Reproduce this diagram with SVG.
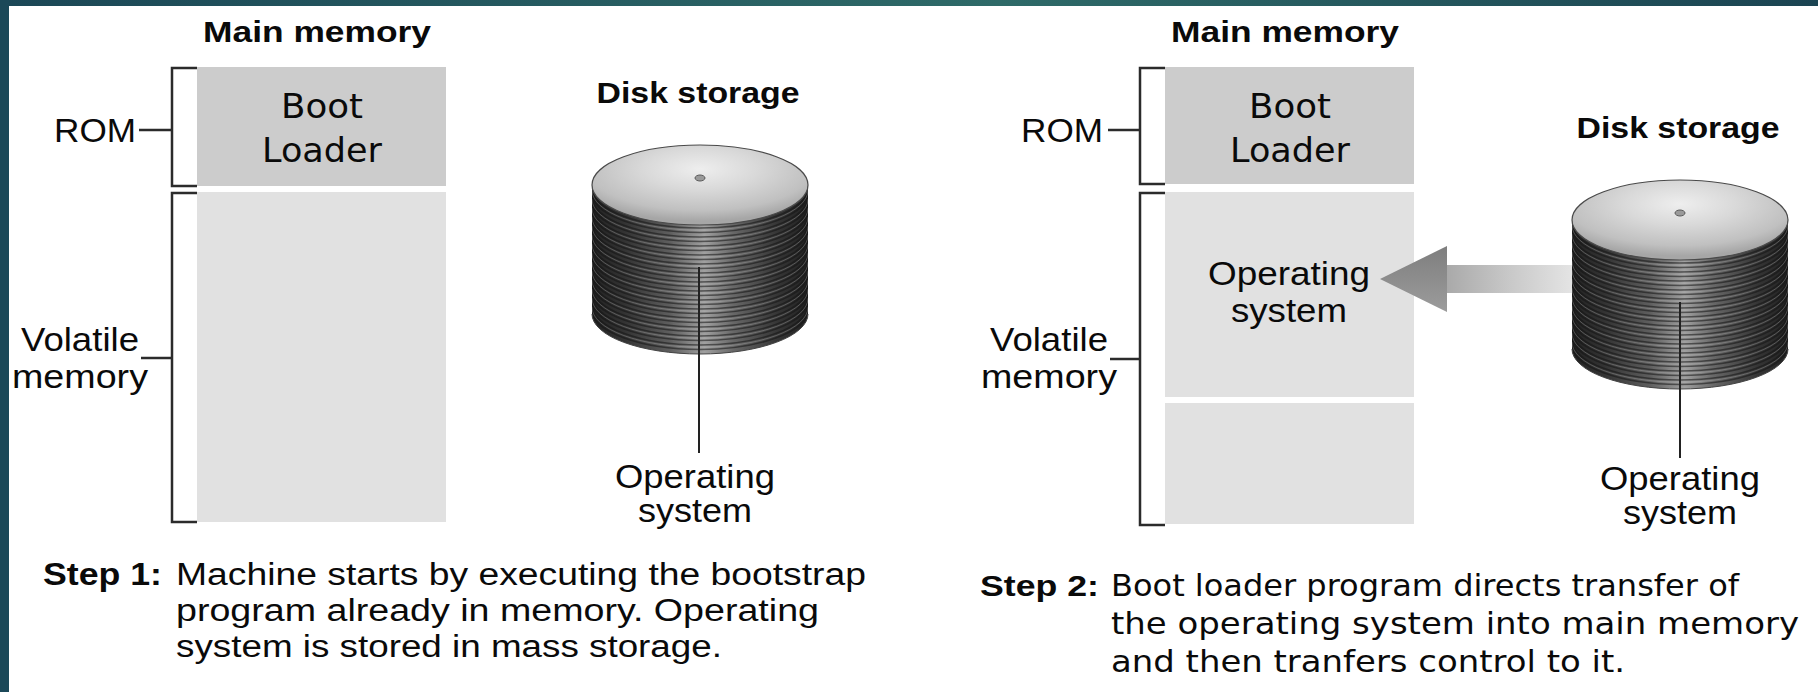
<svg xmlns="http://www.w3.org/2000/svg" xmlns:xlink="http://www.w3.org/1999/xlink" width="1818" height="692" viewBox="0 0 1818 692">
<style>
.sans{font-family:"Liberation Sans",Arial,sans-serif;fill:#0a0a0a}
.dv{font-family:"DejaVu Sans",sans-serif;fill:#0a0a0a}
.b{font-weight:bold}
.br{fill:none;stroke:#2b2b2b;stroke-width:2.5}
.lead{fill:none;stroke:#222;stroke-width:2}
.rom{fill:#cccccc}
.vol{fill:#e1e1e1}
</style>
<defs>
  <linearGradient id="topband" x1="0" y1="0" x2="1" y2="0">
    <stop offset="0" stop-color="#1b4756"/>
    <stop offset="0.55" stop-color="#2e6a68"/>
    <stop offset="1" stop-color="#1b4452"/>
  </linearGradient>
  <linearGradient id="side" x1="0" y1="0" x2="1" y2="0">
    <stop offset="0" stop-color="#222"/>
    <stop offset="0.15" stop-color="#333"/>
    <stop offset="0.36" stop-color="#5e5e5e"/>
    <stop offset="0.52" stop-color="#a0a0a0"/>
    <stop offset="0.66" stop-color="#666"/>
    <stop offset="0.86" stop-color="#353535"/>
    <stop offset="1" stop-color="#222"/>
  </linearGradient>
  <radialGradient id="topg" cx="0.5" cy="0.3" r="0.65">
    <stop offset="0" stop-color="#eeeeee"/>
    <stop offset="0.4" stop-color="#d9d9d9"/>
    <stop offset="0.8" stop-color="#c0c0c0"/>
    <stop offset="1" stop-color="#a6a6a6"/>
  </radialGradient>
  <linearGradient id="shaft" x1="0" y1="0" x2="1" y2="0">
    <stop offset="0" stop-color="#a9a9a9"/>
    <stop offset="0.5" stop-color="#c8c8c8"/>
    <stop offset="1" stop-color="#e4e4e4"/>
  </linearGradient>
  <linearGradient id="head" x1="0" y1="0" x2="0" y2="1">
    <stop offset="0" stop-color="#7e7e7e"/>
    <stop offset="1" stop-color="#9c9c9c"/>
  </linearGradient>
  <clipPath id="sideclip">
    <path d="M592,185 V314 A108,40 0 0 0 808,314 V185 Z"/>
  </clipPath>
  <g id="disk">
    <path d="M592,185 V314 A108,40 0 0 0 808,314 V185 Z" fill="url(#side)"/>
    <g clip-path="url(#sideclip)">
      <path fill="none" stroke="#141414" stroke-width="1.6" stroke-opacity="0.55" d="M592,188 a108,40 0 0 0 216,0 M592,192.5 a108,40 0 0 0 216,0 M592,197 a108,40 0 0 0 216,0 M592,201.5 a108,40 0 0 0 216,0 M592,206 a108,40 0 0 0 216,0 M592,210.5 a108,40 0 0 0 216,0 M592,215 a108,40 0 0 0 216,0 M592,219.5 a108,40 0 0 0 216,0 M592,224 a108,40 0 0 0 216,0 M592,228.5 a108,40 0 0 0 216,0 M592,233 a108,40 0 0 0 216,0 M592,237.5 a108,40 0 0 0 216,0 M592,242 a108,40 0 0 0 216,0 M592,246.5 a108,40 0 0 0 216,0 M592,251 a108,40 0 0 0 216,0 M592,255.5 a108,40 0 0 0 216,0 M592,260 a108,40 0 0 0 216,0 M592,264.5 a108,40 0 0 0 216,0 M592,269 a108,40 0 0 0 216,0 M592,273.5 a108,40 0 0 0 216,0 M592,278 a108,40 0 0 0 216,0 M592,282.5 a108,40 0 0 0 216,0 M592,287 a108,40 0 0 0 216,0 M592,291.5 a108,40 0 0 0 216,0 M592,296 a108,40 0 0 0 216,0 M592,300.5 a108,40 0 0 0 216,0 M592,305 a108,40 0 0 0 216,0 M592,309.5 a108,40 0 0 0 216,0"/>
      <path fill="none" stroke="#c8c8c8" stroke-width="1" stroke-opacity="0.3" d="M592,190.2 a108,40 0 0 0 216,0 M592,199.2 a108,40 0 0 0 216,0 M592,208.2 a108,40 0 0 0 216,0 M592,217.2 a108,40 0 0 0 216,0 M592,226.2 a108,40 0 0 0 216,0 M592,235.2 a108,40 0 0 0 216,0 M592,244.2 a108,40 0 0 0 216,0 M592,253.2 a108,40 0 0 0 216,0 M592,262.2 a108,40 0 0 0 216,0 M592,271.2 a108,40 0 0 0 216,0 M592,280.2 a108,40 0 0 0 216,0 M592,289.2 a108,40 0 0 0 216,0 M592,298.2 a108,40 0 0 0 216,0 M592,307.2 a108,40 0 0 0 216,0"/>
    </g>
    <path d="M592,314 A108,40 0 0 0 808,314" fill="none" stroke="#444" stroke-width="1"/>
    <ellipse cx="700" cy="185" rx="108" ry="40" fill="url(#topg)" stroke="#4a4a4a" stroke-width="1.2"/>
    <ellipse cx="700" cy="178" rx="5" ry="3" fill="#9a9a9a" stroke="#5a5a5a" stroke-width="1"/>
  </g>
</defs>

<rect x="0" y="0" width="1818" height="692" fill="#ffffff"/>
<rect x="0" y="0" width="1818" height="6" fill="url(#topband)"/>
<rect x="0" y="0" width="9" height="692" fill="#1b4858"/>

<!-- Step 1 panel -->
<g id="main-memory-1">
  <text class="sans b" x="317" y="42" font-size="30" text-anchor="middle" textLength="228" lengthAdjust="spacingAndGlyphs">Main memory</text>
  <rect class="rom" x="197" y="67" width="249" height="119"/>
  <rect class="vol" x="197" y="192" width="249" height="330"/>
  <text class="dv" x="322" y="118" font-size="34" text-anchor="middle" textLength="82" lengthAdjust="spacingAndGlyphs">Boot</text>
  <text class="dv" x="322" y="162" font-size="34" text-anchor="middle" textLength="120" lengthAdjust="spacingAndGlyphs">Loader</text>
</g>
<g id="rom-label-1">
  <path class="br" d="M197,68 H172 V186 H197"/>
  <text class="sans" x="54" y="142" font-size="34" textLength="82" lengthAdjust="spacingAndGlyphs">ROM</text>
</g>
<g id="volatile-label-1">
  <path class="br" d="M197,193 H172 V522 H197"/>
  <text class="sans" x="80" y="351" font-size="33" text-anchor="middle" textLength="118" lengthAdjust="spacingAndGlyphs">Volatile</text>
  <text class="sans" x="80" y="388" font-size="33" text-anchor="middle" textLength="136" lengthAdjust="spacingAndGlyphs">memory</text>
</g>
<g id="disk-1">
  <text class="sans b" x="698" y="103" font-size="30" text-anchor="middle" textLength="203" lengthAdjust="spacingAndGlyphs">Disk storage</text>
  <use xlink:href="#disk" href="#disk"/>
</g>
<g id="os-label-1">
  <text class="sans" x="695" y="488" font-size="33" text-anchor="middle" textLength="160" lengthAdjust="spacingAndGlyphs">Operating</text>
  <text class="sans" x="695" y="522" font-size="33" text-anchor="middle" textLength="114" lengthAdjust="spacingAndGlyphs">system</text>
</g>
<g id="step-1">
  <text class="sans b" x="43" y="585" font-size="31" textLength="119" lengthAdjust="spacingAndGlyphs">Step 1:</text>
  <text class="sans" x="176" y="585" font-size="31" textLength="690" lengthAdjust="spacingAndGlyphs">Machine starts by executing the bootstrap</text>
  <text class="sans" x="176" y="621" font-size="31" textLength="643" lengthAdjust="spacingAndGlyphs">program already in memory. Operating</text>
  <text class="sans" x="176" y="657" font-size="31" textLength="546" lengthAdjust="spacingAndGlyphs">system is stored in mass storage.</text>
</g>

<!-- Step 2 panel -->
<g id="main-memory-2">
  <text class="sans b" x="1285" y="42" font-size="30" text-anchor="middle" textLength="228" lengthAdjust="spacingAndGlyphs">Main memory</text>
  <rect class="rom" x="1165" y="67" width="249" height="117"/>
  <rect class="vol" x="1165" y="192" width="249" height="205"/>
  <rect class="vol" x="1165" y="403" width="249" height="121"/>
  <text class="dv" x="1290" y="118" font-size="34" text-anchor="middle" textLength="82" lengthAdjust="spacingAndGlyphs">Boot</text>
  <text class="dv" x="1290" y="162" font-size="34" text-anchor="middle" textLength="120" lengthAdjust="spacingAndGlyphs">Loader</text>
  <text class="sans" x="1289" y="285" font-size="34" text-anchor="middle" textLength="162" lengthAdjust="spacingAndGlyphs">Operating</text>
  <text class="sans" x="1289" y="322" font-size="34" text-anchor="middle" textLength="116" lengthAdjust="spacingAndGlyphs">system</text>
</g>
<g id="rom-label-2">
  <path class="br" d="M1165,68 H1140 V184 H1165"/>
  <text class="sans" x="1021" y="142" font-size="34" textLength="82" lengthAdjust="spacingAndGlyphs">ROM</text>
</g>
<g id="volatile-label-2">
  <path class="br" d="M1165,193 H1140 V525 H1165"/>
  <text class="sans" x="1049" y="351" font-size="33" text-anchor="middle" textLength="118" lengthAdjust="spacingAndGlyphs">Volatile</text>
  <text class="sans" x="1049" y="388" font-size="33" text-anchor="middle" textLength="136" lengthAdjust="spacingAndGlyphs">memory</text>
</g>
<g id="disk-2">
  <text class="sans b" x="1678" y="138" font-size="30" text-anchor="middle" textLength="203" lengthAdjust="spacingAndGlyphs">Disk storage</text>
  <use xlink:href="#disk" href="#disk" transform="translate(980,35)"/>
</g>
<g id="os-label-2">
  <text class="sans" x="1680" y="490" font-size="33" text-anchor="middle" textLength="160" lengthAdjust="spacingAndGlyphs">Operating</text>
  <text class="sans" x="1680" y="524" font-size="33" text-anchor="middle" textLength="114" lengthAdjust="spacingAndGlyphs">system</text>
</g>
<g id="step-2">
  <text class="sans b" x="980" y="596" font-size="30" textLength="119" lengthAdjust="spacingAndGlyphs">Step 2:</text>
  <text class="dv" x="1111" y="596" font-size="30" textLength="628" lengthAdjust="spacingAndGlyphs">Boot loader program directs transfer of</text>
  <text class="dv" x="1111" y="634" font-size="30" textLength="688" lengthAdjust="spacingAndGlyphs">the operating system into main memory</text>
  <text class="dv" x="1111" y="672" font-size="30" textLength="514" lengthAdjust="spacingAndGlyphs">and then tranfers control to it.</text>
</g>

<!-- connectors -->
<g id="connectors">
  <path class="br" d="M139,130 H172"/>
  <path class="br" d="M141,358 H172"/>
  <path class="br" d="M1108,130 H1140"/>
  <path class="br" d="M1110,359 H1140"/>
  <path class="lead" d="M699,267 V453"/>
  <path class="lead" d="M1680,302 V458"/>
  <rect x="1446" y="265" width="126" height="28" fill="url(#shaft)"/>
  <polygon points="1380,279 1447,246 1447,312" fill="url(#head)"/>
</g>
</svg>
